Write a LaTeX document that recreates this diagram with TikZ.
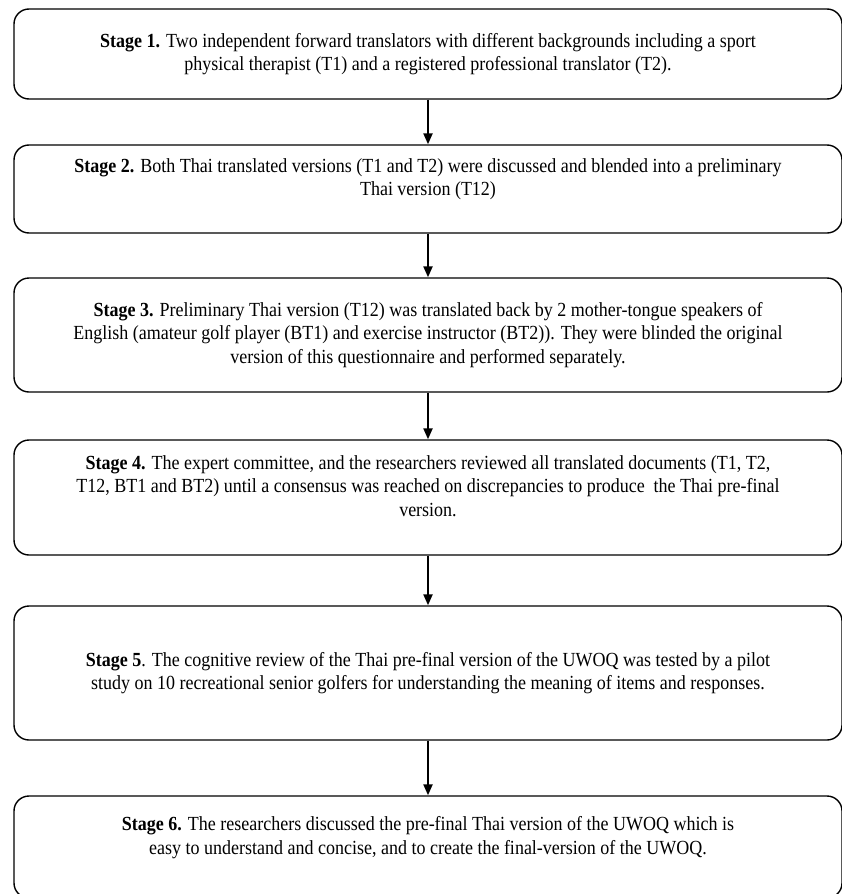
\documentclass[tikz,border=0pt]{standalone}
\usepackage{fontspec}
\setmainfont{Liberation Serif}[FakeStretch=0.9]
\usetikzlibrary{arrows.meta,positioning}

\begin{document}
\begin{tikzpicture}[x=1pt,y=-1pt,
   stagebox/.style={draw, line width=1.4pt, rounded corners=15pt,
      minimum width=828pt, align=center, inner sep=0pt,
      font=\fontsize{20}{23.5}\selectfont},
   flow/.style={line width=2.2pt, -{Triangle[length=11pt,width=9pt]}}]

   \useasboundingbox (0,0) rectangle (842,894);

   % the six stages
   \node[stagebox, minimum height=90pt] (stage1) at (428,54)
      {\textbf{Stage 1.} Two independent forward translators with different backgrounds including a sport\\
       physical therapist (T1) and a registered professional translator (T2).};
   \node[stagebox, minimum height=88pt] (stage2) at (428,189)
      {\textbf{Stage 2.} Both Thai translated versions (T1 and T2) were discussed and blended into a preliminary\\
       Thai version (T12)\\ \mbox{}};
   \node[stagebox, minimum height=114pt] (stage3) at (428,335)
      {\textbf{Stage 3.} Preliminary Thai version (T12) was translated back by 2 mother-tongue speakers of\\
       English (amateur golf player (BT1) and exercise instructor (BT2)). They were blinded the original\\
       version of this questionnaire and performed separately.};
   \node[stagebox, minimum height=115pt] (stage4) at (428,497.5)
      {\textbf{Stage 4.} The expert committee, and the researchers reviewed all translated documents (T1, T2,\\
       T12, BT1 and BT2) until a consensus was reached on discrepancies to produce~ the Thai pre-final\\
       version.\\ \mbox{}};
   \node[stagebox, minimum height=134pt] (stage5) at (428,673)
      {\textbf{Stage 5}. The cognitive review of the Thai pre-final version of the UWOQ was tested by a pilot\\
       study on 10 recreational senior golfers for understanding the meaning of items and responses.};
   \node[stagebox, minimum height=102pt] (stage6) at (428,847)
      {\textbf{Stage 6.} The researchers discussed the pre-final Thai version of the UWOQ which is\\
       easy to understand and concise, and to create the final-version of the UWOQ.\\ \mbox{}};

   % arrows between stages
   \draw[flow] (stage1) -- (stage2);
   \draw[flow] (stage2) -- (stage3);
   \draw[flow] (stage3) -- (stage4);
   \draw[flow] (stage4) -- (stage5);
   \draw[flow] (stage5) -- (stage6);

\end{tikzpicture}
\end{document}
